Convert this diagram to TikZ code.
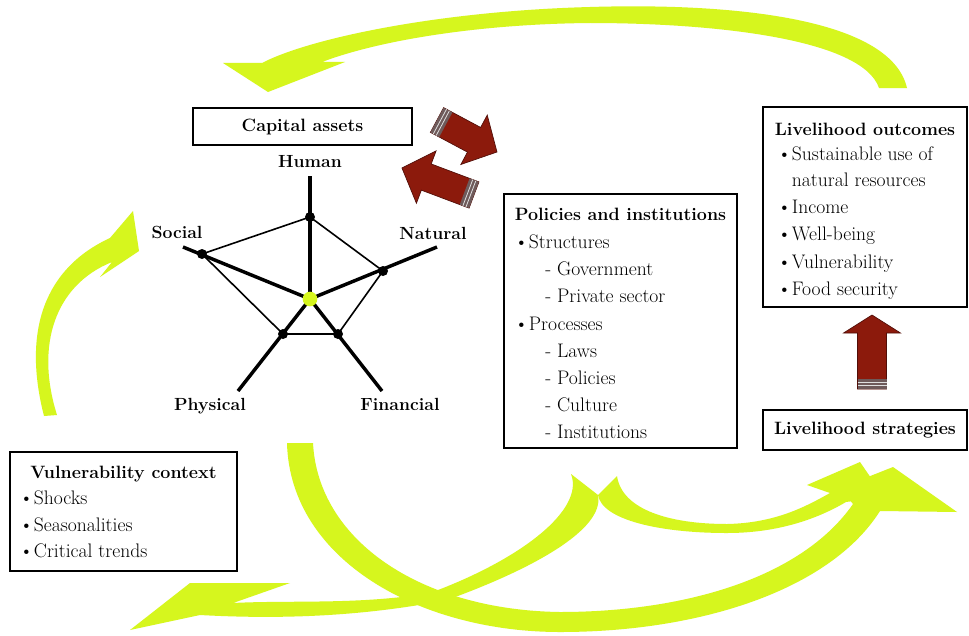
\documentclass[tikz,border=0pt]{standalone}
\usepackage{fontspec}
\setmainfont{Latin Modern Roman}
\usetikzlibrary{shadows}
\definecolor{ylw}{RGB}{214,246,30}
\definecolor{redc}{RGB}{140,26,12}
\definecolor{reddk}{RGB}{80,14,8}
\definecolor{strp}{RGB}{110,90,90}
\newcommand\itembul{\makebox[11pt][l]{\textbullet}}
\newcommand\blockarrow[7]{%
  \begin{scope}[shift={(#1,#2)},rotate=#3]
    \fill[redc,draw=reddk,line width=0.5pt] (0,-#5) -- ({#4-#6},-#5) -- ({#4-#6},-#7) -- (#4,0) -- ({#4-#6},#7) -- ({#4-#6},#5) -- (0,#5) -- cycle;
    \fill[strp] (0,-#5) rectangle (10,#5);
    \draw[white!75!gray,line width=0.6pt] (3.3,-#5) -- (3.3,#5) (6.6,-#5) -- (6.6,#5);
  \end{scope}}
\begin{document}
\begin{tikzpicture}[x=0.75pt,y=-0.75pt,
  box/.style={draw=black,line width=1.6pt,fill=white,inner sep=0pt,
    drop shadow={shadow xshift=1pt,shadow yshift=-1pt,fill=black!45,opacity=1}},
  ttl/.style={font=\fontsize{13.4}{15}\selectfont\bfseries,inner sep=0pt,anchor=base},
  itm/.style={font=\fontsize{14.7}{16}\selectfont,inner sep=0pt,anchor=base west},
  lbl/.style={font=\fontsize{13.2}{15}\selectfont\bfseries,inner sep=0pt,anchor=base},
  dot/.style={circle,fill=black,inner sep=0pt,minimum size=7.5pt},
  hub/.style={circle,fill=ylw,inner sep=0pt,minimum size=11pt},
  axisline/.style={line width=2.6pt},
  edgeline/.style={line width=1.2pt},
  band/.style={fill=ylw}]
\fill[white] (0,0) rectangle (969,635);
\useasboundingbox (0,0) rectangle (969,635);

% yellow arrows
\fill[band] (907,88) .. controls (890,15) and (720,3) .. (590,7) .. controls (440,11) and (310,38) .. (262,63) -- (223,63) -- (268,92) -- (345,62) -- (322,62) .. controls (380,40) and (480,24) .. (590,23) .. controls (710,23) and (862,38) .. (879,88) -- cycle;
\fill[band] (44,416) .. controls (22,330) and (45,268) .. (110,238) -- (133,211) -- (139,251) -- (100,277) -- (112,262) .. controls (55,285) and (35,345) .. (57,415) -- cycle;
\fill[band] (287,443) .. controls (290,560) and (420,632) .. (560,632) .. controls (700,632) and (830,590) .. (880,511) -- (957,512) -- (893,467) -- (840,488) -- (853,504) .. controls (800,580) and (680,612) .. (560,612) .. controls (420,610) and (318,540) .. (313,443) -- cycle;
\fill[band] (571,474) .. controls (585,510) and (520,560) .. (430,593) .. controls (360,605) and (290,600) .. (233,603) -- (290,583) -- (190,583) -- (130,630) -- (200,615) .. controls (290,620) and (370,615) .. (447,600) .. controls (530,570) and (605,530) .. (598,495) -- cycle;
\fill[band] (598,495) -- (617,476) .. controls (622,510) and (670,524) .. (727,524) .. controls (775,523) and (805,507) .. (830,493) -- (807,485) -- (860,462) -- (884,497) -- (846,502) .. controls (812,522) and (772,533) .. (727,533) .. controls (660,533) and (602,520) .. (598,495) -- cycle;

% red block arrows
\blockarrow{437}{120}{-28.1}{68}{14}{26}{28}
\blockarrow{474}{195}{159.4}{77}{14}{26}{28}
\blockarrow{872}{389}{90}{74}{14.5}{18}{28.5}

% boxes
\node[box,minimum width=164.25pt,minimum height=27.75pt,font=\fontsize{13.4}{15}\selectfont\bfseries] (cap) at (302.5,126.5) {Capital assets};
\node[box,minimum width=153pt,minimum height=150pt] (outc) at (865,207) {};
\node[box,minimum width=174.75pt,minimum height=190.5pt] (pol) at (620.5,321) {};
\node[box,minimum width=153pt,minimum height=30pt,font=\fontsize{13.4}{15}\selectfont\bfseries] (strat) at (865,430) {Livelihood strategies};
\node[box,minimum width=170.25pt,minimum height=89.25pt] (vul) at (123.5,511.5) {};

% policies text
\node[ttl] (polT) at (620.5,220) {Policies and institutions};
\node[itm] (pol1) at (514,248) {\itembul Structures};
\node[itm] (pol2) at (545,275) {- Government};
\node[itm] (pol3) at (545,302) {- Private sector};
\node[itm] (pol4) at (514,330) {\itembul Processes};
\node[itm] (pol5) at (545,357) {- Laws};
\node[itm] (pol6) at (545,384) {- Policies};
\node[itm] (pol7) at (545,411) {- Culture};
\node[itm] (pol8) at (545,438) {- Institutions};

% outcomes text
\node[ttl] (outT) at (865,135) {Livelihood outcomes};
\node[itm] (out1) at (777,160) {\itembul Sustainable use of};
\node[itm] (out2) at (791.7,186) {natural resources};
\node[itm] (out3) at (777,213) {\itembul Income};
\node[itm] (out4) at (777,240) {\itembul Well-being};
\node[itm] (out5) at (777,268) {\itembul Vulnerability};
\node[itm] (out6) at (777,295) {\itembul Food security};

% vulnerability text
\node[ttl] (vulT) at (123.5,478) {Vulnerability context};
\node[itm] (vul1) at (19,504) {\itembul Shocks};
\node[itm] (vul2) at (19,531) {\itembul Seasonalities};
\node[itm] (vul3) at (19,557) {\itembul Critical trends};

% pentagon
\coordinate (ctr) at (310,299);
\coordinate (hE) at (310,176); \coordinate (hD) at (310,217);
\coordinate (sE) at (183,247); \coordinate (sD) at (202,254);
\coordinate (nE) at (437,247); \coordinate (nD) at (383,271);
\coordinate (pE) at (238,391); \coordinate (pD) at (283,334);
\coordinate (fE) at (382,391); \coordinate (fD) at (338,334);
\draw[edgeline] (hD) -- (nD) -- (fD) -- (pD) -- (sD) -- cycle;
\draw[axisline] (ctr) -- (hE);
\draw[axisline] (ctr) -- (sE);
\draw[axisline] (ctr) -- (nE);
\draw[axisline] (ctr) -- (pE);
\draw[axisline] (ctr) -- (fE);
\node[dot] (hDot) at (hD) {};
\node[dot] (sDot) at (sD) {};
\node[dot] (nDot) at (nD) {};
\node[dot] (pDot) at (pD) {};
\node[dot] (fDot) at (fD) {};
\node[hub] (hubDot) at (ctr) {};
\node[lbl] (hL) at (310,167) {Human};
\node[lbl] (sL) at (177,238) {Social};
\node[lbl] (nL) at (433,239) {Natural};
\node[lbl] (pL) at (210,410) {Physical};
\node[lbl] (fL) at (400,410) {Financial};
\end{tikzpicture}
\end{document}
